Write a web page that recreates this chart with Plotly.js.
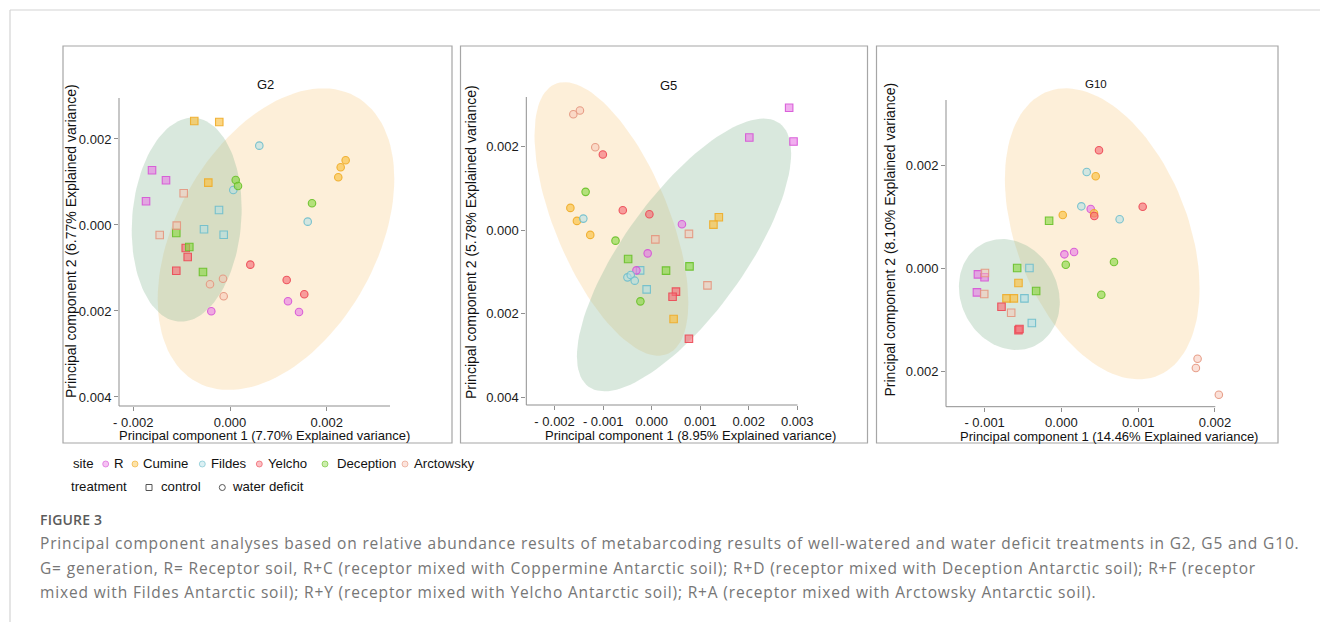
<!DOCTYPE html>
<html><head><meta charset="utf-8">
<script src="https://cdn.plot.ly/plotly-3.0.1.min.js"></script>
<style>
html,body{margin:0;padding:0;background:#fff;}
#wrap{position:relative;width:1320px;height:622px;overflow:hidden;}
#chart{position:absolute;left:0;top:0;width:1320px;height:622px;}
.cap{position:absolute;left:40px;white-space:nowrap;font-family:'Open Sans','Liberation Sans',sans-serif;font-size:15.5px;line-height:20px;letter-spacing:0.85px;color:#767676;}
</style>
</head><body><div id="wrap"><div id="chart"></div></div>
<script>
// ---------------- DATA ----------------
const sites = ['R','Cumine','Fildes','Yelcho','Deception','Arctowsky'];
const treatments = ['control','water deficit'];
const panels = ['G2','G5','G10'];

// G2
const g2Site = ['R','R','R','Cumine','Cumine','Cumine','Fildes','Fildes','Fildes','Yelcho','Yelcho','Yelcho','Deception','Deception','Deception','Arctowsky','Arctowsky','Arctowsky',
                'R','R','R','Cumine','Cumine','Cumine','Fildes','Fildes','Fildes','Yelcho','Yelcho','Yelcho','Deception','Deception','Deception','Arctowsky','Arctowsky','Arctowsky'];
const g2Treat = Array(18).fill('control').concat(Array(18).fill('water deficit'));
const g2PC1 = [-0.001613,-0.001324,-0.001737, -0.000739,-0.000222,-0.000449, -0.000228,-0.000538,-0.000131, -0.000916,-0.000875,-0.001111, -0.001111,-0.000842,-0.000559, -0.000958,-0.001102,-0.001454,
               0.001199,-0.000387,0.001427, 0.002392,0.002289,0.002239, 0.000606,0.000068,0.001607, 0.000420,0.001172,0.001536, 0.000118,0.000165,0.001696, -0.000145,-0.000414,-0.000131];
const g2PC2 = [0.001272,0.001040,0.000551, 0.002419,0.002396,0.000984, 0.000349,-0.000100,-0.000226, -0.000535,-0.000744,-0.001063, -0.000186,-0.000512,-0.001093, 0.000737,-0.000016,-0.000233,
               -0.001775,-0.002007,-0.002024, 0.001505,0.001342,0.001110, 0.001845,0.000814,0.000077, -0.000923,-0.001279,-0.001612, 0.001047,0.000907,0.000505, -0.001249,-0.001379,-0.001658];

// G5
const g5Site = ['R','R','R','Cumine','Cumine','Cumine','Fildes','Fildes','Yelcho','Yelcho','Yelcho','Deception','Deception','Deception','Arctowsky','Arctowsky','Arctowsky',
                'R','R','R','R','Cumine','Cumine','Cumine','Fildes','Fildes','Fildes','Fildes','Yelcho','Yelcho','Yelcho','Yelcho','Deception','Deception','Deception','Arctowsky','Arctowsky','Arctowsky'];
const g5Treat = Array(17).fill('control').concat(Array(21).fill('water deficit'));
const g5PC1 = [0.002833,0.002012,0.002923, 0.001384,0.001273,0.000452, -0.000238,-0.000103, 0.000501,0.000431,0.000768, -0.000485,0.000296,0.000780, 0.000076,0.000768,0.001150,
               0.000624,-0.000082,-0.000314,0.003901, -0.001675,-0.001540,-0.001265, -0.001408,-0.000499,-0.000431,-0.000349, -0.001006,-0.000595,-0.000047,0.003888, -0.001361,-0.000745,-0.000232, -0.001614,-0.001478,-0.001162];
const g5PC2 = [0.002931,0.002220,0.002124, 0.000311,0.000137,-0.002122, -0.000958,-0.001413, -0.001468,-0.001588,-0.002594, -0.000685,-0.000965,-0.000862, -0.000216,-0.000086,-0.001317,
               0.000144,-0.000551,-0.000958,-0.002666, 0.000536,0.000225,-0.000110, 0.000280,-0.001126,-0.001068,-0.001205, 0.001813,0.000479,0.000383,-0.003336, 0.000920,-0.000247,-0.001700, 0.002778,0.002867,0.001988];

// G10
const g10Site = g2Site.slice();
const g10Treat = g2Treat.slice();
const g10PC1 = [-0.001087,-0.001001,-0.001100, -0.000559,-0.000715,-0.000619, -0.000416,-0.000481,-0.000385, -0.000780,-0.000559,-0.000546, -0.000160,-0.000576,-0.000329, -0.000996,-0.001005,-0.000654,
                0.000382,0.000039,0.000165, 0.000447,0.000425,0.000018, 0.000330,0.000260,0.000759, 0.000490,0.000429,0.001059, 0.000057,0.000685,0.000520, 0.001774,0.001752,0.002051];
const g10PC2 = [-0.000116,-0.000174,-0.000465, -0.000285,-0.000581,-0.000581, 0.000006,-0.000581,-0.001059, -0.000743,-0.001195,-0.001175, 0.000922,0.000006,-0.000439, -0.000091,-0.000498,-0.000860,
                0.001148,0.000271,0.000316, 0.001781,0.001065,0.001032, 0.001864,0.001200,0.000949, 0.002284,0.001013,0.001193, 0.000070,0.000122,-0.000511, -0.001750,-0.001930,-0.002447];

// Confidence ellipses (centre, half-extent in x and y, phase between x and y)
const ellipsePanel = ['G2','G2','G5','G5','G10','G10'];
const ellipseTreat = ['water deficit','control','water deficit','control','water deficit','control'];
const ellipseCx = [0.000951,-0.000896,-0.000829,0.000667,0.000532,-0.000678];
const ellipseCy = [-0.000330,0.000123,0.000273,-0.000589,0.000668,-0.000507];
const ellipseRx = [0.002447,0.001137,0.001585,0.002207,0.001268,0.000657];
const ellipseRy = [0.003508,0.002372,0.003274,0.003264,0.002817,0.001074];
const ellipsePhase = [66.5,84,127.6,42,112,98];

// Axis ticks
const g2XTickVals = [-0.002,0,0.002];  const g2XTickText = ['- 0.002','0.000','0.002'];
const g2YTickVals = [0.002,0,-0.002,-0.004]; const g2YTickText = ['0.002','0.000','0.002','0.004'];
const g5XTickVals = [-0.002,-0.001,0,0.001,0.002,0.003]; const g5XTickText = ['- 0.002','- 0.001','0.000','0.001','0.002','0.003'];
const g5YTickVals = [0.002,0,-0.002,-0.004]; const g5YTickText = ['0.002','0.000','0.002','0.004'];
const g10XTickVals = [-0.001,0,0.001,0.002]; const g10XTickText = ['- 0.001','0.000','0.001','0.002'];
const g10YTickVals = [0.002,0,-0.002]; const g10YTickText = ['0.002','0.000','0.002'];

const xTitles = ['Principal component 1 (7.70% Explained variance)','Principal component 1 (8.95% Explained variance)','Principal component 1 (14.46% Explained variance)'];
const yTitles = ['Principal component 2 (6.77% Explained variance)','Principal component 2 (5.78% Explained variance)','Principal component 2 (8.10% Explained variance)'];
const captionLabel = 'FIGURE 3';
const captionLines = ['Principal component analyses based on relative abundance results of metabarcoding results of well-watered and water deficit treatments in G2, G5 and G10.',
  'G= generation, R= Receptor soil, R+C (receptor mixed with Coppermine Antarctic soil); R+D (receptor mixed with Deception Antarctic soil); R+F (receptor',
  'mixed with Fildes Antarctic soil); R+Y (receptor mixed with Yelcho Antarctic soil); R+A (receptor mixed with Arctowsky Antarctic soil).'];

// ---------------- STYLE / GEOMETRY ----------------
const W = 1320, H = 622;
const PX = p => p / W, PY = p => 1 - p / H;
const FONT = 'Liberation Sans, Arial, Helvetica, sans-serif';
const siteEdge = {R:'rgba(214,84,214,0.9)',Cumine:'rgba(238,172,40,0.9)',Fildes:'rgba(110,190,204,0.9)',Yelcho:'rgba(236,72,84,0.9)',Deception:'rgba(104,192,40,0.9)',Arctowsky:'rgba(228,150,126,0.9)'};
const siteFill = {R:'rgba(232,122,228,0.6)',Cumine:'rgba(250,192,64,0.65)',Fildes:'rgba(176,222,230,0.55)',Yelcho:'rgba(246,112,122,0.65)',Deception:'rgba(142,216,72,0.65)',Arctowsky:'rgba(248,196,180,0.5)'};
const ellFill = {'water deficit':'rgba(248,205,138,0.32)','control':'rgba(138,182,148,0.32)'};

// visible axis frame of each panel (pixels) and the axis values at its ends
const geom = [
  {L:119,R:390,T:98,B:406,xr:[-0.002296,0.003309],yr:[-0.00421,0.002953],tl:4},
  {L:526.3,R:797.5,T:97,B:405,xr:[-0.002583,0.003005],yr:[-0.00418,0.00319],tl:4},
  {L:946,R:1215.3,T:100,B:406.7,xr:[-0.001503,0.002005],yr:[-0.002678,0.003258],tl:4}
];
const EXT_TOP = 24, EXT_RIGHT = 30; // plot area extends beyond the drawn axis lines so ellipses are not cut

const panelData = {
  G2:{site:g2Site,treat:g2Treat,x:g2PC1,y:g2PC2,xa:'x',ya:'y'},
  G5:{site:g5Site,treat:g5Treat,x:g5PC1,y:g5PC2,xa:'x2',ya:'y2'},
  G10:{site:g10Site,treat:g10Treat,x:g10PC1,y:g10PC2,xa:'x3',ya:'y3'}
};

const traces = [];
for (let i = 0; i < ellipsePanel.length; i++) {
  const pd = panelData[ellipsePanel[i]];
  const ph = ellipsePhase[i] * Math.PI / 180;
  const ex = [], ey = [];
  for (let k = 0; k <= 120; k++) {
    const t = 2 * Math.PI * k / 120;
    ex.push(ellipseCx[i] + ellipseRx[i] * Math.cos(t));
    ey.push(ellipseCy[i] + ellipseRy[i] * Math.cos(t - ph));
  }
  traces.push({type:'scatter',mode:'lines',x:ex,y:ey,xaxis:pd.xa,yaxis:pd.ya,fill:'toself',
    fillcolor:ellFill[ellipseTreat[i]],line:{width:0,color:'rgba(0,0,0,0)'},hoverinfo:'skip',showlegend:false});
}
panels.forEach(p => {
  const pd = panelData[p];
  traces.push({type:'scatter',mode:'markers',x:pd.x,y:pd.y,xaxis:pd.xa,yaxis:pd.ya,cliponaxis:false,showlegend:false,
    marker:{size:7.5,symbol:pd.treat.map(t => t === 'control' ? 'square' : 'circle'),
      color:pd.site.map(s => siteFill[s]),line:{width:1.1,color:pd.site.map(s => siteEdge[s])}}});
});

function axisStyle(extra){
  return Object.assign({showgrid:false,zeroline:false,showline:false,
    ticks:'outside',ticklen:4,tickwidth:1,tickcolor:'#8f8f8f',tickmode:'array',
    tickfont:{family:FONT,size:13,color:'#1a1a1a'},fixedrange:true}, extra);
}

const layout = {
  width:W,height:H,margin:{l:0,r:0,t:0,b:0},paper_bgcolor:'rgba(0,0,0,0)',plot_bgcolor:'rgba(0,0,0,0)',showlegend:false,
  font:{family:FONT},shapes:[],annotations:[]
};
const tickSets = [[g2XTickVals,g2XTickText,g2YTickVals,g2YTickText],[g5XTickVals,g5XTickText,g5YTickVals,g5YTickText],[g10XTickVals,g10XTickText,g10YTickVals,g10YTickText]];
geom.forEach((g,i) => {
  const sx = (g.xr[1]-g.xr[0])/(g.R-g.L), sy = (g.yr[1]-g.yr[0])/(g.B-g.T);
  const sfx = i === 0 ? '' : String(i+1);
  layout['xaxis'+sfx] = axisStyle({domain:[PX(g.L),PX(g.R+EXT_RIGHT)],range:[g.xr[0],g.xr[1]+EXT_RIGHT*sx],anchor:'y'+sfx,tickvals:tickSets[i][0],ticktext:tickSets[i][1],ticklen:g.tl});
  layout['yaxis'+sfx] = axisStyle({domain:[PY(g.B),PY(g.T-EXT_TOP)],range:[g.yr[0],g.yr[1]+EXT_TOP*sy],anchor:'x'+sfx,tickvals:tickSets[i][2],ticktext:tickSets[i][3],ticklen:g.tl});
  layout.shapes.push({type:'line',xref:'paper',yref:'paper',x0:PX(g.L),x1:PX(g.L),y0:PY(g.T),y1:PY(g.B),line:{color:'#8f8f8f',width:1}});
  layout.shapes.push({type:'line',xref:'paper',yref:'paper',x0:PX(g.L),x1:PX(g.R),y0:PY(g.B),y1:PY(g.B),line:{color:'#8f8f8f',width:1}});
});

// page lines and panel frames
layout.shapes.push({type:'line',xref:'paper',yref:'paper',x0:PX(10),x1:PX(1320),y0:PY(10),y1:PY(10),line:{color:'#d4d4d4',width:1.2}});
layout.shapes.push({type:'line',xref:'paper',yref:'paper',x0:PX(10),x1:PX(10),y0:PY(10),y1:PY(622),line:{color:'#d4d4d4',width:1.2}});
[[63,452],[460.5,867.5],[876.5,1278]].forEach(b => layout.shapes.push({type:'rect',xref:'paper',yref:'paper',x0:PX(b[0]),x1:PX(b[1]),y0:PY(443),y1:PY(46),line:{color:'#a6a6a6',width:1.2}}));

// panel titles and axis titles
const titlePos = [[265,85,13],[668,85.7,13],[1096,84.3,11.5]];
panels.forEach((p,i) => layout.annotations.push({xref:'paper',yref:'paper',x:PX(titlePos[i][0]),y:PY(titlePos[i][1]),text:p,showarrow:false,xanchor:'center',yanchor:'middle',font:{family:FONT,size:titlePos[i][2],color:'#111'}}));
const xtPos = [[264.2,435],[690.5,435],[1108.5,436]];
const ytPos = [[71,241],[470.5,242.5],[889.5,240]];
for (let i = 0; i < 3; i++) {
  layout.annotations.push({xref:'paper',yref:'paper',x:PX(xtPos[i][0]),y:PY(xtPos[i][1]),text:xTitles[i],showarrow:false,xanchor:'center',yanchor:'middle',borderpad:0,font:{family:FONT,size:13,color:'#111'}});
  layout.annotations.push({xref:'paper',yref:'paper',x:PX(ytPos[i][0]),y:PY(ytPos[i][1]),text:yTitles[i],textangle:-90,showarrow:false,xanchor:'center',yanchor:'middle',borderpad:0,font:{family:FONT,size:14,color:'#111'}});
}

// legend
const legRow1 = 463.5, legRow2 = 486.5;
const legMarkX = [105.7,135,202.3,259.3,325,405];
const legTextX = [113,141.5,209.5,266.5,335.5,413.5];
function legText(x,y,t){layout.annotations.push({xref:'paper',yref:'paper',x:PX(x),y:PY(y),text:t,showarrow:false,xanchor:'left',yanchor:'middle',borderpad:0,font:{family:FONT,size:13.2,color:'#111'}});}
legText(72,legRow1,'site');
sites.forEach((s,i) => {
  layout.shapes.push({type:'circle',xref:'paper',yref:'paper',xsizemode:'pixel',ysizemode:'pixel',xanchor:PX(legMarkX[i]),yanchor:PY(legRow1+0.5),x0:-3,x1:3,y0:-3,y1:3,fillcolor:siteFill[s].replace(/[\d.]+\)$/,'0.45)'),line:{color:siteEdge[s].replace(/[\d.]+\)$/,'0.6)'),width:1}});
  legText(legTextX[i],legRow1,s);
});
legText(69.5,legRow2,'treatment');
layout.shapes.push({type:'rect',xref:'paper',yref:'paper',xsizemode:'pixel',ysizemode:'pixel',xanchor:PX(149),yanchor:PY(legRow2+1),x0:-3,x1:3,y0:-3,y1:3,fillcolor:'#fff',line:{color:'#555',width:1}});
legText(160,legRow2,treatments[0]);
layout.shapes.push({type:'circle',xref:'paper',yref:'paper',xsizemode:'pixel',ysizemode:'pixel',xanchor:PX(222.3),yanchor:PY(legRow2+1),x0:-3,x1:3,y0:-3,y1:3,fillcolor:'#fff',line:{color:'#555',width:1}});
legText(230.5,legRow2,treatments[1]);

Plotly.newPlot('chart', traces, layout, {staticPlot:true,displayModeBar:false});

// caption (page text under the figure)
const wrap = document.getElementById('wrap');
const lab = document.createElement('div');
lab.className = 'cap';
lab.style.top = '510px'; lab.style.fontSize = '14px'; lab.style.fontWeight = '600'; lab.style.letterSpacing = '0.2px'; lab.style.color = '#5b5b5b';
lab.textContent = captionLabel;
wrap.appendChild(lab);
const capTop = [533,557.5,582];
captionLines.forEach((t,i) => {
  const d = document.createElement('div');
  d.className = 'cap';
  d.style.top = capTop[i] + 'px';
  d.textContent = t;
  wrap.appendChild(d);
});
</script>
</body></html>
